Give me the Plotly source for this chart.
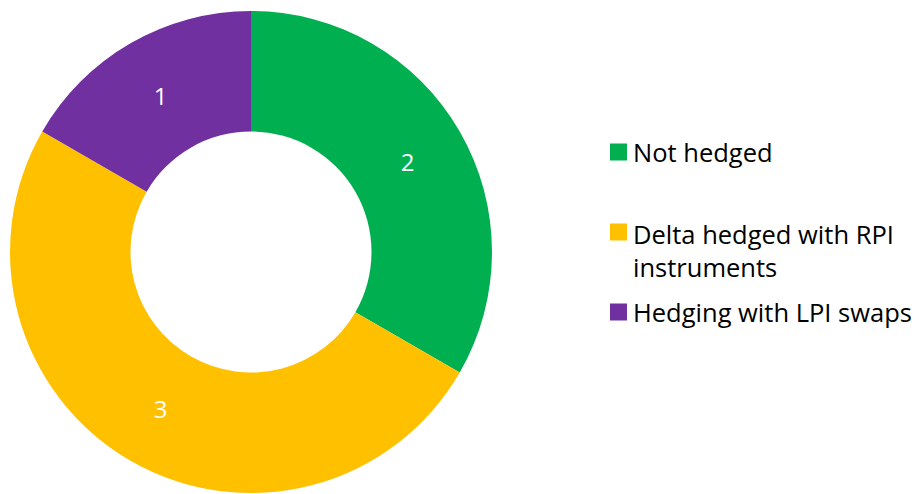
import plotly.graph_objects as go

labels = ["Not hedged", "Delta hedged with RPI<br>instruments", "Hedging with LPI swaps"]
values = [2, 3, 1]
colors = ["#00B050", "#FFC000", "#7030A0"]

# legend entry vertical centres (screen px) – layout only
legend_y_px = [152, 250, 312]

W, H = 919, 494
OFF = 8  # browser body margin


def px(x):
    return (x - OFF) / W


def py(y):
    return 1 - (y - OFF) / H


fig = go.Figure(go.Pie(
    labels=labels,
    values=values,
    hole=0.5,
    sort=False,
    direction="clockwise",
    rotation=0,
    marker=dict(colors=colors, line=dict(width=0)),
    textinfo="value",
    textposition="inside",
    insidetextorientation="horizontal",
    textfont=dict(color="white", size=24, family="Open Sans"),
    domain=dict(x=[2 / W, 484 / W], y=[9 / H, 491 / H]),
    hoverinfo="label+value",
    showlegend=False,
))

shapes = []
annotations = []
for lab, col, yc in zip(labels, colors, legend_y_px):
    first_line_y = yc if "<br>" not in lab else yc - 18
    shapes.append(dict(
        type="rect", xref="paper", yref="paper",
        x0=px(610), x1=px(627), y0=py(first_line_y - 8.5), y1=py(first_line_y + 8.5),
        fillcolor=col, line=dict(width=0),
    ))
    annotations.append(dict(
        xref="paper", yref="paper", x=px(631), y=py(yc),
        xanchor="left", yanchor="middle", align="left",
        text=lab, showarrow=False,
        font=dict(family="Open Sans", size=25.5, color="#000000"),
    ))

fig.update_layout(
    width=W, height=H,
    margin=dict(l=0, r=0, t=0, b=0),
    paper_bgcolor="white",
    plot_bgcolor="white",
    shapes=shapes,
    annotations=annotations,
)

fig.write_html("out.html")
